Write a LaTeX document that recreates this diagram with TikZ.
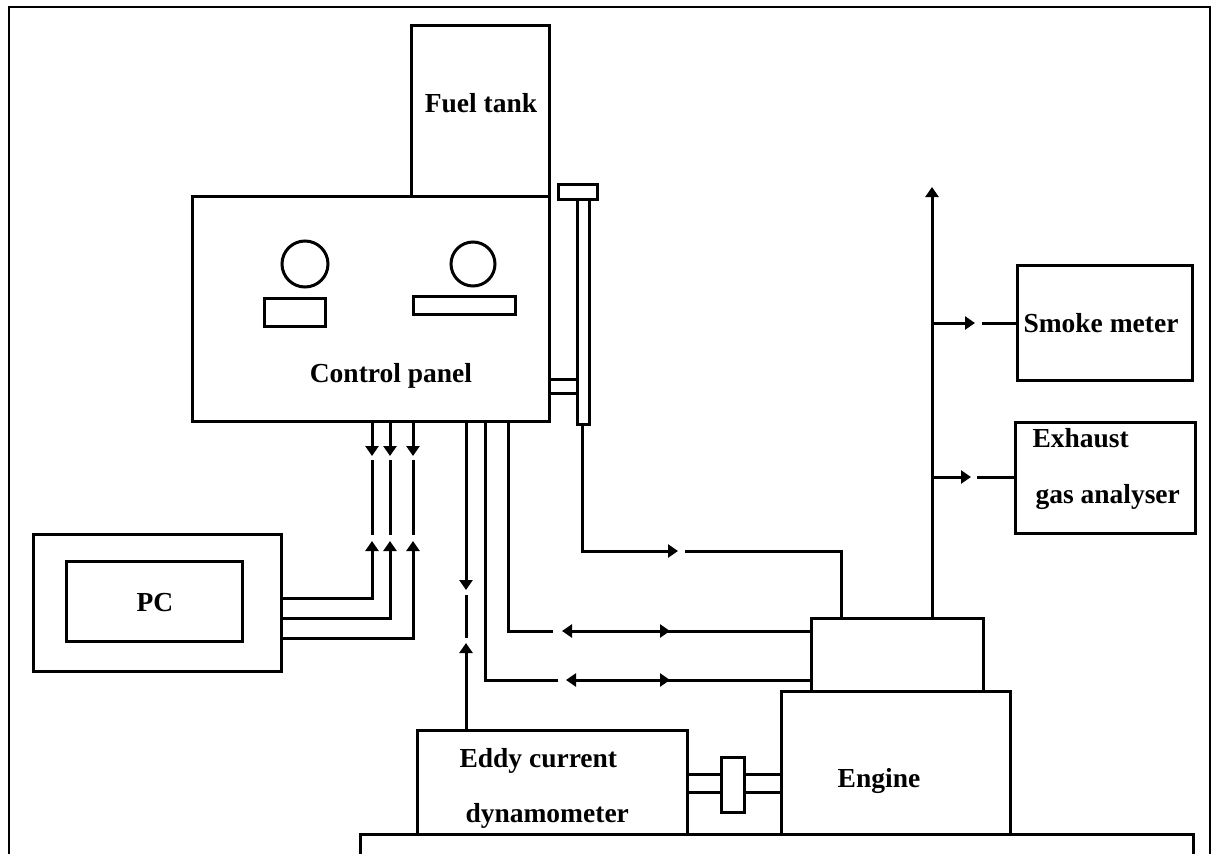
\documentclass[tikz,border=0pt]{standalone}
\usepackage{fontspec}
\setmainfont{Liberation Serif}
\usetikzlibrary{arrows.meta,positioning}

\begin{document}
\begin{tikzpicture}[
  x=1pt,y=-1pt,
  line width=3pt,
  box/.style={draw,minimum width=#1,inner sep=0pt,outer sep=0pt,anchor=north west},
  lab/.style={font=\bfseries\fontsize{27.5}{32}\selectfont,align=left,inner sep=0pt},
  arr/.style={-{Triangle[length=10pt,width=13pt]}}
]
\useasboundingbox (0,0) rectangle (1212,854);
% outer frame, open at the bottom
\coordinate (fl) at (9,854);
\coordinate (fa) at (9,7);
\coordinate (fb) at (1210,7);
\coordinate (fr) at (1210,854);
\draw[line width=2pt] (fl)--(fa)--(fb)--(fr);
% boxes
\node[box=138pt,minimum height=171pt] (tank) at (411,25) {};
\node[box=357pt,minimum height=225pt] (panel) at (192,196) {};
\node[box=61pt,minimum height=28pt] (small) at (264,298) {};
\node[box=102pt,minimum height=18pt] (wide) at (413,296) {};
\node[draw,circle,minimum size=46pt,inner sep=0pt] (diala) at (305,264) {};
\node[draw,circle,minimum size=44pt,inner sep=0pt] (dialb) at (473,264) {};
\node[box=39pt,minimum height=15pt] (cap) at (558,184) {};
\node[box=12pt,minimum height=225pt] (tube) at (577,199) {};
\node[box=248pt,minimum height=137pt] (pcout) at (33,534) {};
\node[box=176pt,minimum height=80pt] (pcin) at (66,561) {};
\node[box=175pt,minimum height=115pt] (smoke) at (1017,265) {};
\node[box=180pt,minimum height=111pt] (exhaust) at (1015,422) {};
\node[box=172pt,minimum height=73pt] (head) at (811,618) {};
\node[box=229pt,minimum height=143pt] (engine) at (781,691) {};
\node[box=270pt,minimum height=104pt] (eddy) at (417,730) {};
\node[box=23pt,minimum height=55pt] (coupler) at (721,757) {};
% bed, open at the bottom
\coordinate (bl) at (360,854);
\coordinate (ba) at (360,834);
\coordinate (bb) at (1193,834);
\coordinate (br) at (1193,854);
\draw (bl)--(ba)--(bb)--(br);
% labels
\node[lab] (tanklab) at (481,103) {Fuel tank};
\node[lab] (panellab) at (391,376) {Control panel};
\node[lab] (pclab) at (155,603) {PC};
\node[lab] (smokelab) at (1101,323) {Smoke meter};
\node[lab,anchor=west] (exlab) at (1031,438) {Exhaust};
\node[lab,anchor=west] (gaslab) at (1034,497) {gas analyser};
\node[lab] (enginelab) at (879,781) {Engine};
\node[lab,anchor=west] (eddylab) at (458,761) {Eddy current};
\node[lab,anchor=west] (dynlab) at (464,816) {dynamometer};
% shaft
\draw (eddy.east |- 0,774)--(coupler.west |- 0,774);
\draw (eddy.east |- 0,792)--(coupler.west |- 0,792);
\draw (coupler.east |- 0,774)--(engine.west |- 0,774);
\draw (coupler.east |- 0,792)--(engine.west |- 0,792);
% tube to panel
\draw (panel.east |- 0,379)--(tube.west |- 0,379);
\draw (panel.east |- 0,393)--(tube.west |- 0,393);
% panel and PC
\draw[arr] (372,421)--(372,456);
\draw (372,460)--(372,535);
\draw[arr] (390,421)--(390,456);
\draw (390,460)--(390,535);
\draw[arr] (413,421)--(413,456);
\draw (413,460)--(413,535);
\draw[arr] (pcout.east |- 0,598)--(372,598)--(372,541);
\draw[arr] (pcout.east |- 0,618)--(390,618)--(390,541);
\draw[arr] (pcout.east |- 0,638)--(413,638)--(413,541);
% dynamometer
\draw[arr] (466,421)--(466,590);
\draw (466,595)--(466,638);
\draw[arr] (466,730)--(466,643);
% panel and engine
\draw[arr] (674,631)--(562,631);
\draw (553,631)--(508,631)--(508,421);
\draw[arr] (575,631)--(670,631);
\draw (674,631)--(head.west |- 0,631);
\draw[arr] (680,680)--(566,680);
\draw (558,680)--(485,680)--(485,421);
\draw[arr] (580,680)--(670,680);
\draw (674,680)--(head.west |- 0,680);
% fuel line
\draw[arr] (tube.south -| 582,0)--(582,551)--(678,551);
\draw (685,551)--(841,551)--(841,618);
% exhaust
\draw[arr] (932,618)--(932,187);
\draw[arr] (932,323)--(975,323);
\draw (982,323)--(smoke.west |- 0,323);
\draw[arr] (932,477)--(971,477);
\draw (977,477)--(exhaust.west |- 0,477);
\end{tikzpicture}
\end{document}
